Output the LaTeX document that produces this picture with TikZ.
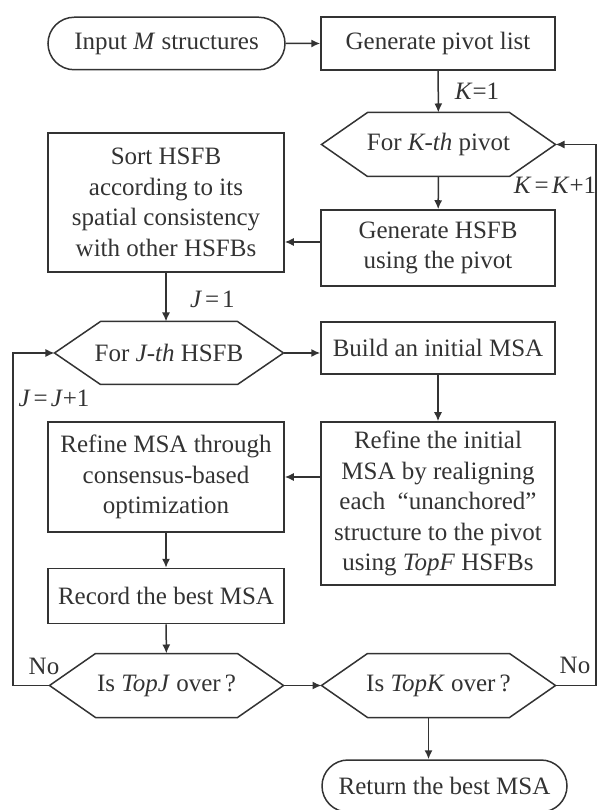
\documentclass[tikz,border=0pt]{standalone}
\usepackage{fontspec}
\setmainfont{Liberation Serif}
\usepackage{tikz}
\usetikzlibrary{arrows.meta,shapes.misc}

\definecolor{inkgray}{gray}{0.2}
\newcommand{\eqsp}{\kern1.2pt=\kern1.2pt}

\begin{document}
\begin{tikzpicture}[x=0.4pt, y=-0.4pt, font=\fontsize{10}{12.2}\selectfont, color=inkgray,
  box/.style={draw=inkgray, line width=0.6pt, rectangle, minimum width=93.6pt, inner sep=0pt, align=center},
  term/.style={box, rounded rectangle, minimum height=21pt},
  hexa/.style={minimum width=93.2pt, minimum height=25.2pt, inner sep=0pt, align=center},
  arr/.style={-{Latex[length=3.6pt,width=3.2pt]}, line width=0.6pt},
  conn/.style={line width=0.6pt}]
  \useasboundingbox (0,0) rectangle (597,810);

  % right column
  \node[term, minimum width=94.8pt] (input) at (166.5,43.5) {Input \textit{M} structures};
  \node[box, minimum height=21.2pt] (pivots) at (438,43.5) {Generate pivot list};
  \node[hexa] (forK) at (438.5,144.5) {For \textit{K-th} pivot};
  \node[box, minimum height=30.4pt] (genH) at (438,248) {Generate HSFB\\using the pivot};
  \node[box, minimum height=20.8pt] (build) at (438,348) {Build an initial MSA};
  \node[box, minimum height=65.2pt] (refI) at (438,503.5)
    {Refine the initial\\MSA by realigning\\each~ ``unanchored''\\structure to the pivot\\using \textit{TopF} HSFBs};
  \node[hexa] (topK) at (438.5,685.5) {Is \textit{TopK} over\,?};
  \node[term, minimum width=98pt, minimum height=20.8pt] (ret) at (444.5,786) {Return the best MSA};

  % left column
  \node[box, minimum width=94.4pt, minimum height=55.6pt] (sortH) at (166,202.5)
    {Sort HSFB\\according to its\\spatial consistency\\with other HSFBs};
  \node[hexa, minimum width=91.2pt, minimum height=24.8pt] (forJ) at (169,353) {For \textit{J-th} HSFB};
  \node[box, minimum width=94.4pt, minimum height=44pt] (refM) at (166,477)
    {Refine MSA through\\consensus-based\\optimization};
  \node[box, minimum width=94.4pt, minimum height=22pt] (record) at (166,596) {Record the best MSA};
  \node[hexa] (topJ) at (166.5,685.5) {Is \textit{TopJ} over\,?};

  % hexagon outlines
  \foreach \n in {forK,forJ,topJ,topK}
    \draw[conn] (\n.west) -- ([xshift=18.4pt]\n.north west) -- ([xshift=-18.4pt]\n.north east)
      -- (\n.east) -- ([xshift=-18.4pt]\n.south east) -- ([xshift=18.4pt]\n.south west) -- cycle;

  \coordinate (lft) at (13,0);
  \coordinate (rgt) at (596,0);

  % connectors
  \draw[arr] (input) -- (pivots);
  \draw[arr] (pivots) -- (forK) node[pos=0.5, right=3pt] {\textit{K}=1};
  \draw[arr] (forK) -- (genH);
  \draw[arr] ([yshift=2.4pt]genH.west) -- ([yshift=2.4pt]genH.west -| sortH.east);
  \draw[arr] (sortH) -- (sortH.south |- forJ.north) node[pos=0.55, right=6pt] {\textit{J}\eqsp 1};
  \draw[arr] (forJ.east) -- (forJ.east -| build.west);
  \draw[arr] (build) -- (refI);
  \draw[arr] (refM.east -| refI.west) -- (refM.east);
  \draw[arr] (refM) -- (record);
  \draw[arr] (record) -- (topJ);
  \draw[arr] (topJ) -- (topK);
  \draw[arr] ([xshift=-4pt]topK.south) -- ([xshift=-4pt]topK.south |- ret.north);
  \draw[arr] (topJ.west) -- (topJ.west -| lft) |- (forJ.west);
  \draw[arr] (topK.east) -- (topK.east -| rgt) |- (forK.east);

  % loop labels
  \node (noJ) at (44,666) {No};
  \node (incJ) at (54,398) {\textit{J}\eqsp\textit{J}+1};
  \node (noK) at (575,665) {No};
  \node (incK) at (555,185) {\textit{K}\eqsp\textit{K}+1};
\end{tikzpicture}
\end{document}
